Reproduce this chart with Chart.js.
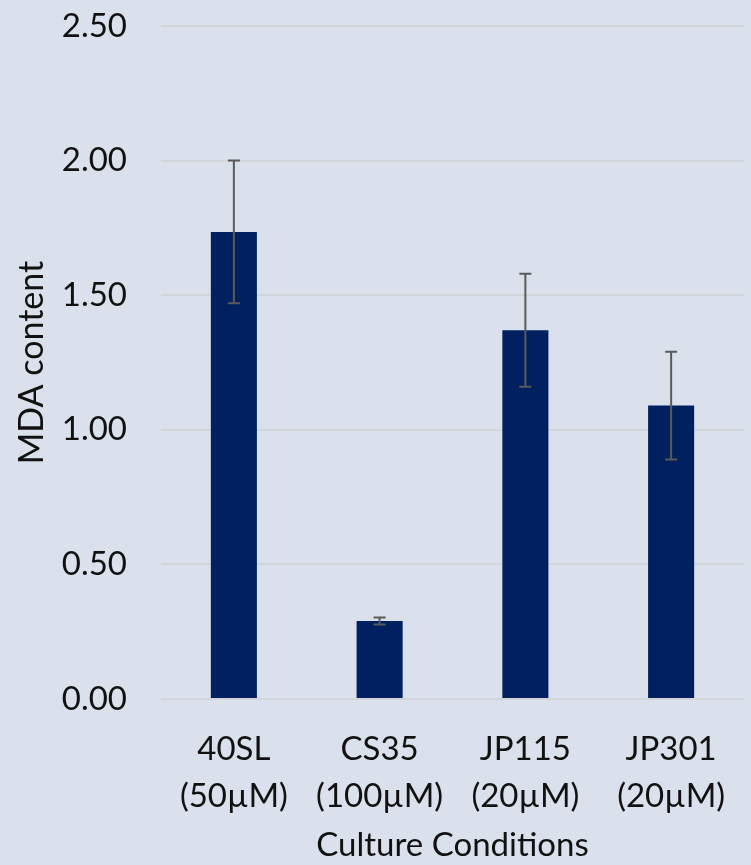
<!DOCTYPE html>
<html>
<head>
<meta charset="utf-8">
<script src="https://cdn.jsdelivr.net/npm/chart.js@4/dist/chart.umd.min.js"></script>
<style>
  html, body { margin: 0; padding: 0; background: #DAE1EC; }
  #wrap { width: 751px; height: 865px; position: relative; }
</style>
</head>
<body>
<div id="wrap"><canvas id="c" width="751" height="865"></canvas></div>
<script>
// MDA content per culture condition, with standard deviation
const categories = [["40SL", "(50µM)"], ["CS35", "(100µM)"], ["JP115", "(20µM)"], ["JP301", "(20µM)"]];
const mdaValues = [1.735, 0.29, 1.37, 1.09];
const mdaErrors = [0.265, 0.013, 0.21, 0.20];
const yTicks = [0, 0.5, 1.0, 1.5, 2.0, 2.5];

const FONT = "Lato, 'Open Sans', sans-serif";

// Draws symmetric error bars over each bar using the chart's own scales
const errorBars = {
  id: 'errorBars',
  afterDatasetsDraw(chart) {
    const { ctx, scales } = chart;
    const meta = chart.getDatasetMeta(0);
    ctx.save();
    ctx.strokeStyle = '#5A5A5A';
    ctx.lineWidth = 2;
    meta.data.forEach((bar, i) => {
      const x = bar.x;
      const yHi = scales.y.getPixelForValue(mdaValues[i] + mdaErrors[i]);
      const yLo = scales.y.getPixelForValue(mdaValues[i] - mdaErrors[i]);
      const cap = 6;
      ctx.beginPath();
      ctx.moveTo(x, yHi); ctx.lineTo(x, yLo);
      ctx.moveTo(x - cap, yHi); ctx.lineTo(x + cap, yHi);
      ctx.moveTo(x - cap, yLo); ctx.lineTo(x + cap, yLo);
      ctx.stroke();
    });
    ctx.restore();
  }
};

new Chart(document.getElementById('c'), {
  type: 'bar',
  data: {
    labels: categories,
    datasets: [{
      data: mdaValues,
      backgroundColor: '#00205F',
      borderWidth: 0,
      barPercentage: 0.316,
      categoryPercentage: 1.0
    }]
  },
  options: {
    responsive: false,
    animation: false,
    layout: { padding: { top: 26, right: 7, left: 0, bottom: 0 } },
    plugins: { legend: { display: false }, tooltip: { enabled: false } },
    scales: {
      x: {
        grid: { display: false, drawTicks: false },
        border: { display: false },
        ticks: {
          color: '#111',
          font: { family: FONT, size: 33, lineHeight: 1.45 },
          padding: 26,
          maxRotation: 0, autoSkip: false
        },
        title: {
          display: true,
          text: 'Culture Conditions',
          color: '#111',
          font: { family: FONT, size: 33, lineHeight: 1.2 },
          padding: { top: 4, bottom: 0 }
        },
        afterFit(scale) { scale.height = 166; scale.paddingLeft = 0; scale.paddingRight = 0; }
      },
      y: {
        min: 0, max: 2.5,
        afterBuildTicks(scale) { scale.ticks = yTicks.map(v => ({ value: v })); },
        grid: { color: '#D2D5DA', lineWidth: 2, drawTicks: false },
        border: { display: false },
        ticks: {
          color: '#111',
          font: { family: FONT, size: 33 },
          padding: 34,
          callback: v => Number(v).toFixed(2)
        },
        title: {
          display: true,
          text: 'MDA content',
          color: '#111',
          font: { family: FONT, size: 34, lineHeight: 1.2 },
          padding: { top: 12, bottom: 0 }
        },
        afterFit(scale) { scale.width = 161; scale.paddingTop = 0; scale.paddingBottom = 0; }
      }
    }
  },
  plugins: [errorBars]
});
</script>
</body>
</html>
